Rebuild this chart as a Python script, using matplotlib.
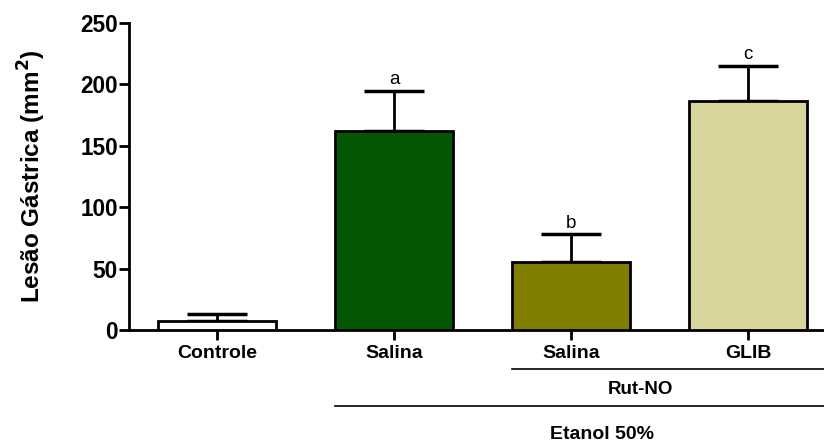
import numpy as np
import matplotlib as mpl
import matplotlib.pyplot as plt
from matplotlib import transforms

mpl.rcParams['font.family'] = ['Liberation Sans', 'DejaVu Sans']

groups = ['Controle', 'Salina', 'Salina', 'GLIB']
means = [7.6, 162.3, 55.6, 186.5]
errs = [5.2, 32.6, 22.3, 28.7]
letters = ['', 'a', 'b', 'c']
colors = ['#ffffff', '#045804', '#807f00', '#d8d69c']

fig = plt.figure(figsize=(8.24, 4.44), dpi=100)
ax = fig.add_axes([0.1566, 0.2568, 0.8434, 0.6914])

x = np.arange(len(groups))
w = 0.667
ax.bar(x, means, width=w, color=colors, edgecolor='black', linewidth=2, zorder=3)
ax.errorbar(x, means, yerr=[np.zeros(len(errs)), errs], fmt='none', ecolor='black',
            elinewidth=2, capsize=21.5, capthick=2.5, zorder=2)

for xi, m, e, t in zip(x, means, errs, letters):
    if t:
        ax.text(xi, m + e + 2, t, ha='center', va='bottom', fontsize=13.5)

ax.set_xlim(-0.5, 3.43)
ax.set_ylim(0, 250)
ax.set_yticks([0, 50, 100, 150, 200, 250])
ax.set_xticks(x)
ax.set_xticklabels(groups, fontsize=14, fontweight='bold')
for lab in ax.get_yticklabels():
    lab.set_fontsize(16.3)
    lab.set_fontweight('bold')
ax.tick_params(axis='both', width=2, length=7, direction='out', pad=1)
ax.tick_params(axis='x', pad=4)

for s in ['top', 'right']:
    ax.spines[s].set_visible(False)
for s in ['left', 'bottom']:
    ax.spines[s].set_linewidth(2)

ax.set_ylabel('Lesão Gástrica (mm$^\\mathbf{2}$)', fontsize=17.5, fontweight='bold', labelpad=23)

# group brackets under the axis
tr = transforms.blended_transform_factory(ax.transData, ax.transAxes)
xr = ax.get_xlim()[1]
ax.plot([2 - w / 2, xr], [-0.127, -0.127], color='black', lw=1.2, transform=tr, clip_on=False)
ax.text(2.39, -0.195, 'Rut-NO', transform=tr, ha='center', va='center', fontsize=13.5, fontweight='bold')
ax.plot([1 - w / 2, xr], [-0.248, -0.248], color='black', lw=1.2, transform=tr, clip_on=False)
ax.text(2.175, -0.342, 'Etanol 50%', transform=tr, ha='center', va='center', fontsize=14, fontweight='bold')

fig.savefig('out.png', dpi=100)
